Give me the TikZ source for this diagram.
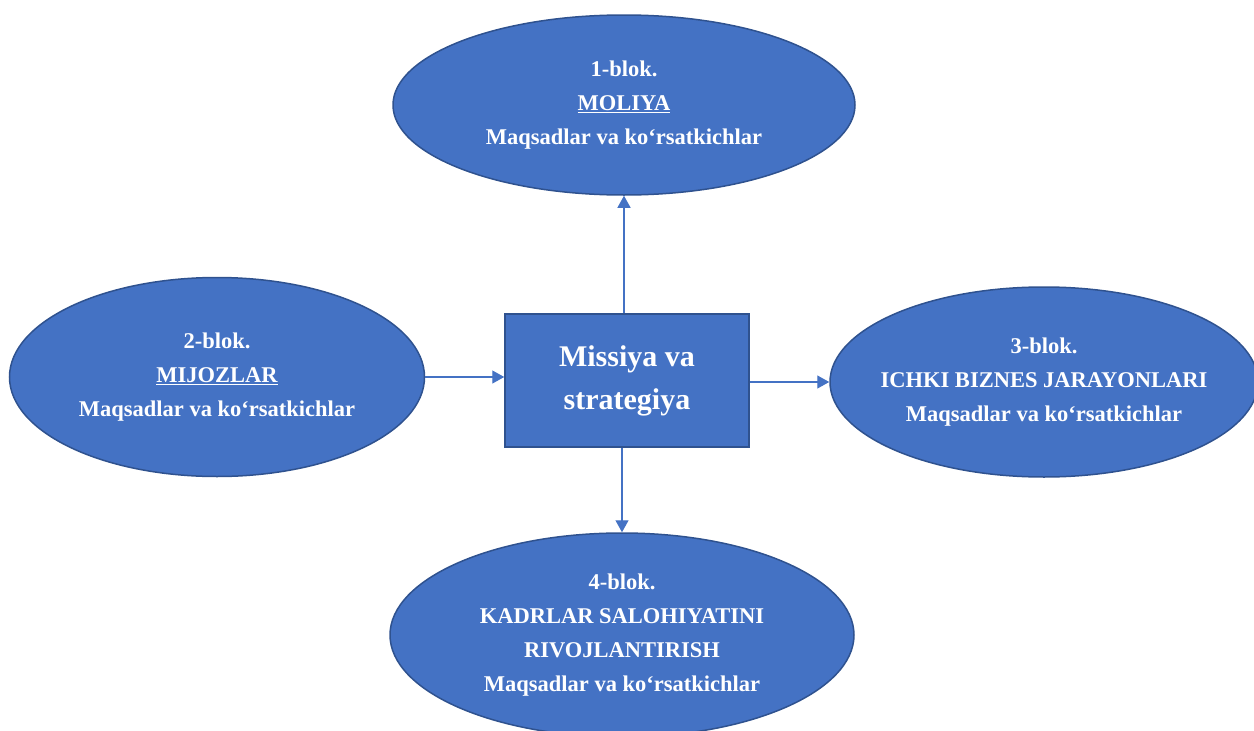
\documentclass[tikz,border=0pt]{standalone}
\usepackage{fontspec}
\setmainfont{Liberation Serif}
\usetikzlibrary{shapes.geometric,arrows.meta}
\definecolor{fillblue}{HTML}{4472C4}
\definecolor{edgeblue}{HTML}{2F528F}
\begin{document}
\begin{tikzpicture}[x=1pt,y=-1pt,
  blok/.style={ellipse,draw=edgeblue,line width=1.5pt,fill=fillblue,text=white,
    font=\bfseries\fontsize{22.5}{34}\selectfont,align=center,inner ysep=0pt,inner xsep=-50pt},
  centre/.style={rectangle,draw=edgeblue,line width=1.5pt,fill=fillblue,text=white,
    font=\bfseries\fontsize{30}{43}\selectfont,align=center,inner sep=0pt},
  conn/.style={draw=fillblue,line width=1.3pt,-{Triangle[length=12pt,width=13pt]}}]
\useasboundingbox (0,0) rectangle (1254,731);
\node[blok,minimum width=462pt,minimum height=180pt] (b1) at (624,105)
  {1-blok.\\\underline{MOLIYA}\\Maqsadlar va ko‘rsatkichlar};
\node[blok,minimum width=415pt,minimum height=199pt] (b2) at (217,377)
  {2-blok.\\\underline{MIJOZLAR}\\Maqsadlar va ko‘rsatkichlar};
\node[blok,minimum width=428pt,minimum height=190pt] (b3) at (1044,382)
  {3-blok.\\ICHKI BIZNES JARAYONLARI\\Maqsadlar va ko‘rsatkichlar};
\node[blok,minimum width=464pt,minimum height=204pt] (b4) at (622,635)
  {4-blok.\\KADRLAR SALOHIYATINI\\RIVOJLANTIRISH\\Maqsadlar va ko‘rsatkichlar};
\node[centre,minimum width=244pt,minimum height=133pt] (m) at (627,380.5)
  {Missiya va\\strategiya};
\draw[conn] (m.north -| b1.south) -- (b1.south);
\draw[conn] (b2.east) -- (m.west |- b2.east);
\draw[conn] (m.east |- b3.west) -- (b3.west);
\draw[conn] (m.south -| b4.north) -- (b4.north);
\end{tikzpicture}
\end{document}
